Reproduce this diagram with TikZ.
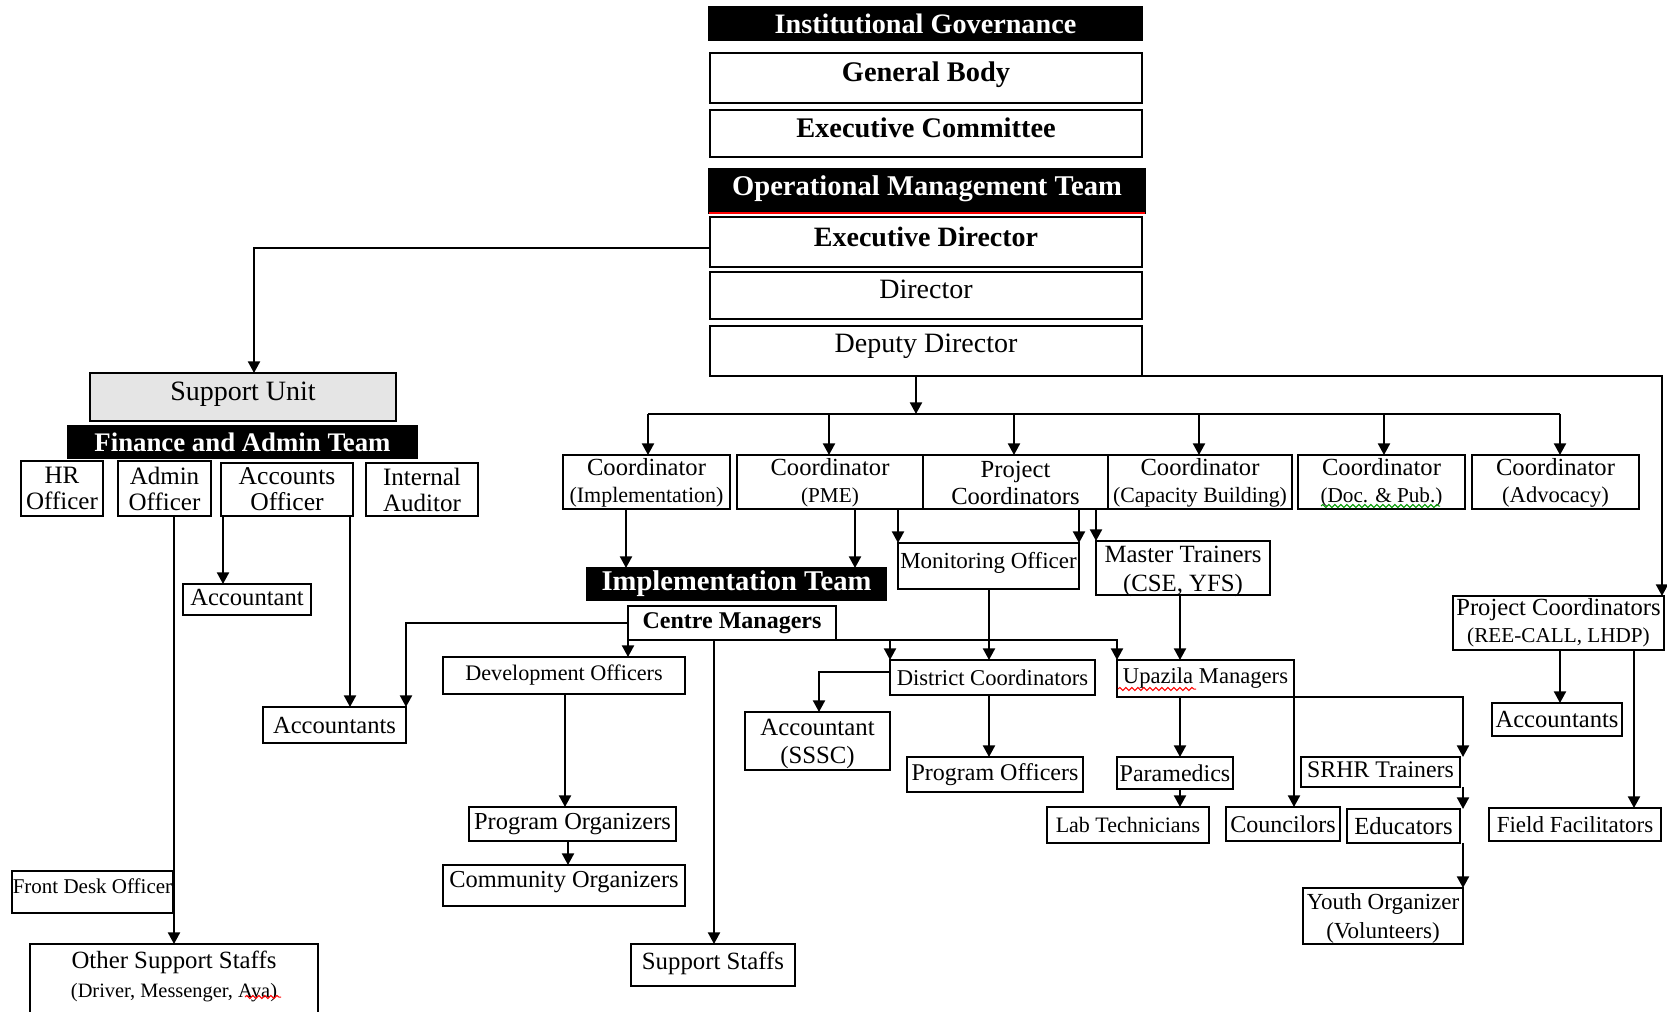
\documentclass[tikz,border=0pt]{standalone}
\usepackage{fontspec}
\setmainfont{Liberation Serif}
\usetikzlibrary{arrows.meta,decorations.pathmorphing}
\newcommand\fs[2]{\fontsize{#1pt}{#2pt}\selectfont}
% \B[box options]{name}{x1}{y1}{x2}{y2}{text options}{text}
\newcommand\B[8][]{%
  \node[box,#1,minimum width={(#5-#3)*0.5pt},minimum height={(#6-#4)*0.5pt}] (#2) at ({(#3+#5)/2},{(#4+#6)/2}) {};
  \node[lab,#7] (#2-t) at (#2.center) {#8};}
\tikzset{
  box/.style={draw, line width=1pt, inner sep=0pt, outer sep=0pt, fill=white},
  hdr/.style={box, fill=black},
  lab/.style={inner sep=0pt, align=center, font=\fs{12.3}{13.5}},
  wlab/.style={lab, text=white},
  conn/.style={line width=1pt, -{Triangle[length=5.8pt,width=6pt]}},
  wire/.style={line width=1pt},
  squig/.style={line width=0.5pt, decorate, decoration={snake, amplitude=0.8pt, segment length=3pt}},
}
\begin{document}
\begin{tikzpicture}[x=0.5pt,y=-0.5pt]
\useasboundingbox (0,0) rectangle (1667,1012);

% governance and management
\B[hdr]{ig}{709}{7}{1142}{40}{wlab,font=\fs{14.1}{16}\bfseries}{Institutional Governance}
\B{gb}{710}{53}{1142}{103}{font=\fs{14.2}{16}\bfseries,yshift=1.5pt}{General Body}
\B{ec}{710}{110}{1142}{157}{font=\fs{14.2}{16}\bfseries,yshift=2.8pt}{Executive Committee}
\B[hdr]{omt}{709}{169}{1145}{213}{wlab,font=\fs{14.3}{16}\bfseries,yshift=1pt}{Operational Management Team}
\draw[red, line width=1pt] (omt.south west) -- (omt.south east);
\B{ed}{710}{217}{1142}{267}{font=\fs{14}{16}\bfseries,yshift=2.6pt}{Executive Director}
\B{dir}{710}{272}{1142}{319}{font=\fs{14}{16},yshift=3pt}{Director}
\B{dd}{710}{326}{1142}{376}{font=\fs{14}{16},yshift=2.5pt}{Deputy Director}

% support unit
\B[fill=black!10]{su}{90}{373}{396}{421}{font=\fs{14}{16},yshift=1.5pt}{Support Unit}
\B[hdr]{fa}{68}{426}{417}{458}{wlab,font=\fs{13.4}{15}\bfseries}{Finance and Admin Team}
\B{hr}{21}{461}{103}{516}{font=\fs{12.5}{13}}{HR\\Officer}
\B{ao}{118}{461}{211}{516}{font=\fs{12.5}{13}}{Admin\\Officer}
\B{aco}{221}{463}{353}{516}{font=\fs{12.8}{13}}{Accounts\\Officer}
\B{ia}{366}{463}{478}{516}{font=\fs{12.5}{13}}{Internal\\Auditor}
\B{acc1}{183}{584}{311}{615}{yshift=1pt}{Accountant}
\B{acc2}{263}{707}{406}{743}{}{Accountants}
\B{fdo}{12}{871}{173}{913}{font=\fs{10.5}{12},yshift=3pt}{Front Desk Officer}
\B{oss}{30}{944}{318}{1040}{font=\fs{12.4}{14.5},yshift=8pt}{Other Support Staffs\\{\fs{10.2}{14.5}(Driver, Messenger, Aya)}}

% coordinators
\B{cimp}{563}{455}{730}{509}{yshift=-0.5pt}{Coordinator\\{\fs{11}{13.5}(Implementation)}}
\B{cpme}{737}{455}{923}{509}{yshift=-0.5pt}{Coordinator\\{\fs{10.6}{13.5}(PME)}}
\B{pc}{923}{455}{1108}{509}{yshift=-0.5pt}{Project\\Coordinators}
\B{ccb}{1108}{455}{1292}{509}{yshift=-0.5pt}{Coordinator\\{\fs{10.9}{13.5}(Capacity Building)}}
\B{cdp}{1298}{455}{1465}{509}{yshift=-0.5pt}{Coordinator\\{\fs{10.6}{13.5}(Doc. \& Pub.)}}
\B{cadv}{1472}{455}{1639}{509}{yshift=-0.5pt}{Coordinator\\{\fs{11.3}{13.5}(Advocacy)}}

% implementation
\B[hdr]{it}{587}{568}{886}{600}{wlab,font=\fs{14.3}{16}\bfseries}{Implementation Team}
\B{cm}{628}{606}{836}{640}{font=\fs{12}{14}\bfseries}{Centre Managers}
\B{mo}{898}{543}{1079}{589}{font=\fs{11.5}{13},yshift=1.5pt}{Monitoring Officer}
\B{mt}{1096}{541}{1270}{595}{font=\fs{12.4}{14.5},yshift=-1.5pt}{Master Trainers\\(CSE, YFS)}
\B{dvo}{443}{657}{685}{694}{font=\fs{11.1}{13}}{Development Officers}
\B{dc}{890}{660}{1095}{695}{font=\fs{11.3}{13}}{District Coordinators}
\B{um}{1117}{660}{1294}{697}{font=\fs{11.3}{13}}{Upazila Managers}
\B{ree}{1453}{596}{1664}{650}{}{Project Coordinators\\{\fs{10.6}{13.5}(REE-CALL, LHDP)}}
\B{accs}{745}{712}{890}{770}{font=\fs{12.4}{14},yshift=-1.5pt}{Accountant\\(SSSC)}
\B{po}{907}{757}{1083}{792}{font=\fs{12}{13}}{Program Officers}
\B{pm}{1117}{757}{1233}{789}{font=\fs{12}{13}}{Paramedics}
\B{srhr}{1301}{757}{1460}{787}{font=\fs{11.9}{13},yshift=1pt}{SRHR Trainers}
\B{acc3}{1492}{703}{1622}{736}{}{Accountants}
\B{porg}{469}{807}{676}{841}{font=\fs{12.2}{13}}{Program Organizers}
\B{corg}{443}{865}{685}{906}{font=\fs{12.2}{13},yshift=1.5pt}{Community Organizers}
\B{lt}{1047}{807}{1209}{843}{font=\fs{11}{13}}{Lab Technicians}
\B{cou}{1226}{807}{1340}{841}{font=\fs{12}{13}}{Councilors}
\B{edu}{1347}{809}{1460}{843}{}{Educators}
\B{ff}{1489}{808}{1661}{841}{font=\fs{11.5}{13}}{Field Facilitators}
\B{yo}{1303}{888}{1463}{944}{font=\fs{11.5}{14.5},yshift=-1pt}{Youth Organizer\\(Volunteers)}
\B{ss}{631}{944}{795}{986}{font=\fs{12.4}{13},yshift=1pt}{Support Staffs}

% connectors
\draw[conn] (ed.west |- 0,248) -| (254,0 |- su.north);
\coordinate (busM) at (916,414);
\coordinate (busL) at (648,414);
\coordinate (busR) at (1560,414);
\draw[conn] (busM |- dd.south) -- (busM);
\draw[wire] (busL) -- (busR);
\foreach \x/\n in {648/cimp,829/cpme,1014/pc,1199/ccb,1384/cdp,1560/cadv}
  \draw[conn] (\x,414) -- (\x,0 |- \n.north);
\draw[conn] (dd.south east) -- (1662,0 |- dd.south east) -- (1662,0 |- ree.north);

\draw[conn] (174,0 |- ao.south) -- (174,0 |- oss.north);
\draw[conn] (223,0 |- aco.south) -- (223,0 |- acc1.north);
\draw[conn] (350,0 |- aco.south) -- (350,0 |- acc2.north);
\draw[conn] (cm.west) -| (acc2.north east);

\draw[conn] (626,0 |- cimp.south) -- (626,0 |- it.north);
\draw[conn] (855,0 |- cpme.south) -- (855,0 |- it.north);
\draw[conn] (mo.north west |- cpme.south) -- (mo.north west);
\draw[conn] (mo.north east |- pc.south) -- (mo.north east);
\draw[conn] (mt.north west |- pc.south) -- (mt.north west);
\draw[conn] (989,0 |- mo.south) -- (989,0 |- dc.north);
\draw[conn] (1180,0 |- mt.south) -- (1180,0 |- um.north);

\draw[conn] (cm.south east) -| (um.north west);
\draw[conn] (dc.north west |- cm.south east) -- (dc.north west);
\draw[conn] (cm.south west) -- (cm.south west |- dvo.north);
\draw[conn] (714,0 |- cm.south) -- (714,0 |- ss.north);

\draw[conn] (dc.west |- 0,672) -| (819,0 |- accs.north);
\draw[conn] (989,0 |- dc.south) -- (989,0 |- po.north);
\draw[conn] (1180,0 |- um.south) -- (1180,0 |- pm.north);
\draw[conn] (1180,0 |- pm.south) -- (1180,0 |- lt.north);
\draw[conn] (um.south east) -- (um.south east |- cou.north);
\draw[conn] (um.south east) -| (1463,0 |- srhr.north);
\draw[conn] (1463,0 |- srhr.south) -- (1463,0 |- edu.north);
\draw[conn] (1463,0 |- edu.south) -- (1463,0 |- yo.north);
\draw[conn] (1560,0 |- ree.south) -- (1560,0 |- acc3.north);
\draw[conn] (1634,0 |- ree.south) -- (1634,0 |- ff.north);
\draw[conn] (565,0 |- dvo.south) -- (565,0 |- porg.north);
\draw[conn] (568,0 |- porg.south) -- (568,0 |- corg.north);

% spelling marks
\draw[squig, green!60!black] (1321,506) -- (1440,506);
\draw[squig, red] (1118,689) -- (1196,689);
\draw[squig, red] (245,997) -- (281,997);
\end{tikzpicture}
\end{document}
